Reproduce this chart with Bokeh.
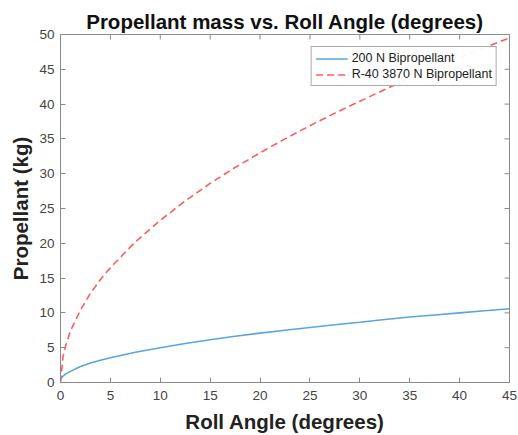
from bokeh.plotting import figure
from bokeh.models import Range1d, FixedTicker, Legend, LegendItem
from bokeh.embed import file_html
from bokeh.resources import INLINE
import math

roll_angle = [0, 0.25, 0.5, 1, 2, 3, 4, 5, 7.5, 10, 12.5, 15, 17.5, 20, 22.5, 25, 27.5, 30, 32.5, 35, 37.5, 40, 42.5, 45]
small_thruster = [0.5, 0.9, 1.2, 1.6, 2.3, 2.8, 3.2, 3.55, 4.35, 5.0, 5.6, 6.15, 6.65, 7.1, 7.5, 7.9, 8.3, 8.65, 9.05, 9.4, 9.7, 10.0, 10.3, 10.6]
large_thruster = [0.0, 3.7, 5.2, 7.4, 10.4, 12.8, 14.8, 16.5, 20.2, 23.3, 26.1, 28.6, 30.9, 33.0, 35.0, 36.9, 38.7, 40.4, 42.1, 43.7, 45.2, 46.7, 48.1, 49.5]
series_names = ["200 N Bipropellant", "R-40 3870 N Bipropellant"]
x_ticks = [0, 5, 10, 15, 20, 25, 30, 35, 40, 45]
y_ticks = [0, 5, 10, 15, 20, 25, 30, 35, 40, 45, 50]

FONT = "Liberation Sans"
AXIS_COL = "#8a8a8a"
TICK_TXT = "#444444"
X_MIN, X_MAX, Y_MIN, Y_MAX = 0, 45, 0, 50

p = figure(width=518, height=435, output_backend="svg", toolbar_location=None,
           x_range=Range1d(X_MIN, X_MAX), y_range=Range1d(Y_MIN, Y_MAX),
           min_border_left=60, min_border_right=9, min_border_top=34, min_border_bottom=53,
           title="Propellant mass vs. Roll Angle (degrees)")
p.title.text_font = FONT
p.title.text_font_size = "20.5px"
p.title.text_font_style = "bold"
p.title.align = "center"
p.title.text_color = "#111111"
p.title.offset = 0
p.title.standoff = 4
p.grid.visible = False
p.outline_line_color = AXIS_COL
p.background_fill_color = "white"
p.border_fill_color = "white"

for ax in (p.xaxis[0], p.yaxis[0]):
    ax.axis_line_color = AXIS_COL
    ax.major_tick_line_color = AXIS_COL
    ax.minor_tick_line_color = None
    ax.major_tick_in = 5
    ax.major_tick_out = 0
    ax.major_label_text_font = FONT
    ax.major_label_text_font_size = "13.5px"
    ax.major_label_text_color = TICK_TXT
    ax.axis_label_text_font = FONT
    ax.axis_label_text_font_size = "20.5px"
    ax.axis_label_text_font_style = "bold"
    ax.axis_label_text_color = "#222222"

p.xaxis.ticker = FixedTicker(ticks=x_ticks)
p.yaxis.ticker = FixedTicker(ticks=y_ticks)
p.xaxis.axis_label = "Roll Angle (degrees)"
p.yaxis.axis_label = "Propellant (kg)"
p.xaxis.major_label_standoff = 8
p.yaxis.major_label_standoff = 6
p.xaxis.axis_label_standoff = 7
p.yaxis.axis_label_standoff = 4

# inward tick marks on the top and right edges (half of each dash is clipped by the frame)
p.scatter(x_ticks, [Y_MAX] * len(x_ticks), marker="dash", size=10, angle=math.pi / 2,
          line_color=AXIS_COL, line_width=1)
p.scatter([X_MAX] * len(y_ticks), y_ticks, marker="dash", size=10,
          line_color=AXIS_COL, line_width=1)

r1 = p.line(roll_angle, small_thruster, line_color="#5aa5de", line_width=1.6)
r2 = p.line(roll_angle, large_thruster, line_color="#ff5c5c", line_width=1.6, line_dash="7 4")

legend = Legend(items=[LegendItem(label=series_names[0], renderers=[r1]),
                       LegendItem(label=series_names[1], renderers=[r2])],
                location="top_right")
legend.label_text_font = FONT
legend.label_text_font_size = "12.5px"
legend.label_text_color = "#222222"
legend.border_line_color = "#555555"
legend.border_line_width = 1
legend.glyph_width = 32
legend.glyph_height = 13
legend.label_height = 13
legend.spacing = 2
legend.padding = 4
legend.margin = 12
legend.label_standoff = 4
p.add_layout(legend)

open("out.html", "w").write(file_html(p, INLINE))
